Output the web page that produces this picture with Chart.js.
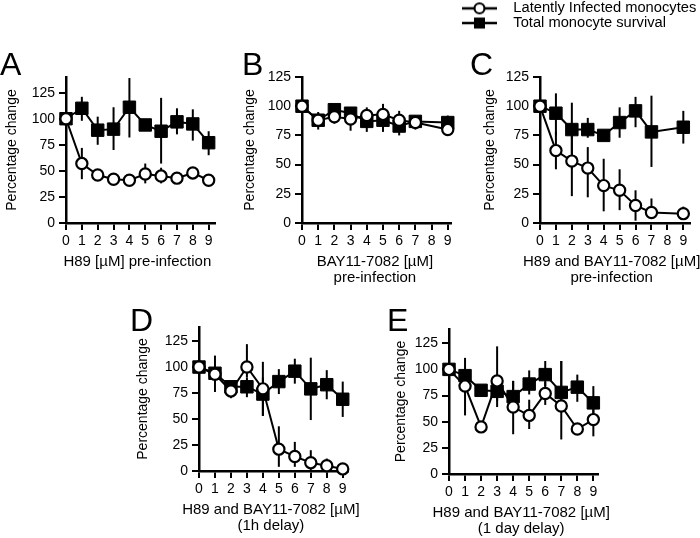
<!DOCTYPE html>
<html><head><meta charset="utf-8">
<script src="https://cdn.jsdelivr.net/npm/chart.js@4.4.1/dist/chart.umd.min.js"></script>
<style>
html,body{margin:0;padding:0;background:#fff;width:700px;height:538px;overflow:hidden;position:relative;}
canvas{position:absolute;}
</style></head><body>
<canvas id="cA"></canvas><canvas id="cB"></canvas><canvas id="cC"></canvas>
<canvas id="cD"></canvas><canvas id="cE"></canvas><canvas id="legend"></canvas>
<script>
// ---------- data ----------
const doses = [0, 1, 2, 3, 4, 5, 6, 7, 8, 9];
const yTicks = [0, 25, 50, 75, 100, 125];
const seriesNames = ['Latently Infected monocytes', 'Total monocyte survival'];
const yTitle = 'Percentage change';

// Panel A: H89 pre-infection
const infA   = [100, 57, 46, 42, 41, 47, 45, 43, 48, 41];
const infALo = [100, 42, 42, 39, 36, 38, 38, 40, 45, 37];
const infAHi = [100, 72, 50, 45, 46, 57, 53, 46, 51, 45];
const totA   = [100, 110, 89, 90, 111, 94, 88, 97, 95, 77];
const totALo = [100, 98, 75, 70, 82, 90, 57, 85, 79, 65];
const totAHi = [100, 121, 102, 111, 139, 98, 120, 110, 109, 88];

// Panel B: BAY11-7082 pre-infection
const infB   = [100, 88, 91, 89, 92, 93, 88, 86, null, 80];
const infBLo = [100, 82, 85, 79, 84, 84, 81, 80, null, 78];
const infBHi = [100, 94, 97, 95, 99, 102, 96, 91, null, 83];
const totB   = [100, 88, 97, 94, 87, 88, 83, 87, null, 86];
const totBLo = [100, 80, 92, 88, 78, 78, 75, 82, null, 80];
const totBHi = [100, 95, 100, 98, 95, 97, 91, 92, null, 92];

// Panel C: H89 and BAY11-7082 pre-infection
const infC   = [100, 62, 53, 47, 32, 28, 15, 9, null, 8];
const infCLo = [100, 46, 23, 22, 10, 11, 2, 4, null, 4];
const infCHi = [100, 78, 75, 65, 55, 46, 28, 21, null, 14];
const totC   = [100, 94, 80, 80, 75, 86, 96, 78, null, 82];
const totCLo = [100, 75, 46, 73, 72, 73, 82, 48, null, 68];
const totCHi = [100, 111, 103, 90, 78, 99, 108, 109, null, 96];

// Panel D: H89 and BAY11-7082 (1h delay)
const infD   = [100, 93, 77, 100, 79, 21, 14, 8, 5, 2];
const infDLo = [100, 85, 70, 90, 53, 4, 4, 1, 1, 1];
const infDHi = [100, 100, 82, 122, 105, 43, 28, 20, 12, 4];
const totD   = [100, 94, 81, 81, 74, 86, 96, 79, 83, 69];
const totDLo = [100, 76, 78, 71, 53, 74, 84, 49, 69, 52];
const totDHi = [100, 111, 84, 90, 90, 98, 108, 109, 97, 86];

// Panel E: H89 and BAY11-7082 (1 day delay)
const infE   = [100, 84, 45, 89, 64, 56, 77, 65, 43, 52];
const infELo = [100, 56, 43, 64, 38, 43, 66, 33, 41, 36];
const infEHi = [100, 100, 48, 122, 89, 71, 88, 108, 46, 64];
const totE   = [100, 94, 80, 79, 74, 86, 95, 78, 83, 68];
const totELo = [100, 84, 78, 70, 68, 76, 84, 70, 69, 52];
const totEHi = [100, 111, 82, 88, 89, 99, 108, 108, 95, 84];

const titleA = ['H89 [µM] pre-infection'];
const titleB = ['BAY11-7082 [µM]', 'pre-infection'];
const titleC = ['H89 and BAY11-7082 [µM]', 'pre-infection'];
const titleD = ['H89 and BAY11-7082 [µM]', '(1h delay)'];
const titleE = ['H89 and BAY11-7082 [µM]', '(1 day delay)'];

// ---------- layout (page geometry of each plot area) ----------
const panels = [
  {id:'cA', letter:'A', title:titleA, inf:[infA,infALo,infAHi], tot:[totA,totALo,totAHi],
   geo:{L:66, T:77, R:215, B:223, ymax:140, xmax:9.4, gap:54, ldx:-66, ldy:-25}},
  {id:'cB', letter:'B', title:titleB, inf:[infB,infBLo,infBHi], tot:[totB,totBLo,totBHi],
   geo:{L:302, T:77, R:451, B:223, ymax:125, xmax:9.2, gap:52, ldx:-60, ldy:-25}},
  {id:'cC', letter:'C', title:titleC, inf:[infC,infCLo,infCHi], tot:[totC,totCLo,totCHi],
   geo:{L:540, T:77, R:690, B:223, ymax:125, xmax:9.42, gap:50, ldx:-70, ldy:-25}},
  {id:'cD', letter:'D', title:titleD, inf:[infD,infDLo,infDHi], tot:[totD,totDLo,totDHi],
   geo:{L:199, T:327, R:348, B:471, ymax:138.5, xmax:9.33, gap:55.5, ldx:-69, ldy:-19}},
  {id:'cE', letter:'E', title:titleE, inf:[infE,infELo,infEHi], tot:[totE,totELo,totEHi],
   geo:{L:449, T:329, R:598, B:474, ymax:138.6, xmax:9.29, gap:47.5, ldx:-62, ldy:-21}}
];

Chart.defaults.font.family = '"Liberation Sans", Arial, Helvetica, sans-serif';
Chart.defaults.color = '#000';

const errorBars = {
  id: 'errorBars',
  beforeDatasetsDraw(chart) {
    const {ctx, scales: {x, y}} = chart;
    ctx.save();
    ctx.strokeStyle = '#000';
    ctx.lineWidth = 2;
    chart.data.datasets.forEach(ds => {
      if (!ds.errLo) return;
      ds.data.forEach((p, i) => {
        if (p.y == null || ds.errLo[i] == null) return;
        const px = x.getPixelForValue(p.x);
        ctx.beginPath();
        ctx.moveTo(px, y.getPixelForValue(ds.errLo[i]));
        ctx.lineTo(px, y.getPixelForValue(ds.errHi[i]));
        ctx.stroke();
      });
    });
    ctx.restore();
  }
};

const panelText = {
  id: 'panelText',
  afterDraw(chart, args, opts) {
    const {ctx, chartArea, scales: {x}} = chart;
    ctx.save();
    ctx.fillStyle = '#000';
    ctx.font = '32px "Liberation Sans", Arial, sans-serif';
    ctx.textBaseline = 'alphabetic';
    ctx.textAlign = 'left';
    ctx.fillText(opts.letter, chartArea.left + opts.dx, chartArea.top + opts.dy + 23);
    // x-axis title, centred on the tick range
    ctx.font = '15px "Liberation Sans", Arial, sans-serif';
    ctx.textAlign = 'center';
    ctx.textBaseline = 'middle';
    const cx = (x.getPixelForValue(doses[0]) + x.getPixelForValue(doses[doses.length - 1])) / 2;
    opts.title.forEach((line, i) => {
      ctx.fillText(line, cx, chartArea.bottom + 38.5 + i * 16.5);
    });
    ctx.restore();
  }
};

function buildPanel(p) {
  const g = p.geo;
  const YW = 72, PT = 32, PR = 26, XH = 72;
  const cv = document.getElementById(p.id);
  const w = YW + (g.R - g.L) + PR, h = PT + (g.B - g.T) + XH;
  cv.width = w; cv.height = h;
  cv.style.width = w + 'px'; cv.style.height = h + 'px';
  cv.style.left = (g.L - YW) + 'px'; cv.style.top = (g.T - PT) + 'px';
  const pts = vals => doses.map((d, i) => ({x: d, y: vals[i]}));
  const axisGrid = {display: true, drawOnChartArea: false, drawTicks: true, tickLength: 7, color: '#000', lineWidth: 2};
  const axisBorder = {display: true, color: '#000', width: 2.5};
  new Chart(cv, {
    type: 'line',
    data: {datasets: [
      {label: seriesNames[0], data: pts(p.inf[0]), errLo: p.inf[1], errHi: p.inf[2],
       borderColor: '#000', borderWidth: 2, pointStyle: 'circle', pointRadius: 5.6, pointBorderWidth: 2.2,
       pointBackgroundColor: '#fff', pointBorderColor: '#000', spanGaps: true, clip: false, fill: false},
      {label: seriesNames[1], data: pts(p.tot[0]), errLo: p.tot[1], errHi: p.tot[2],
       borderColor: '#000', borderWidth: 2, pointStyle: 'rect', pointRadius: 8.8, pointBorderWidth: 1,
       pointBackgroundColor: '#000', pointBorderColor: '#000', spanGaps: true, clip: false, fill: false}
    ]},
    options: {
      responsive: false, animation: false, events: [],
      layout: {padding: {top: PT, right: PR, left: 0, bottom: 0}},
      plugins: {legend: {display: false}, tooltip: {enabled: false},
                panelText: {letter: p.letter, title: p.title, dx: g.ldx, dy: g.ldy}},
      scales: {
        x: {type: 'linear', min: 0, max: g.xmax,
            afterBuildTicks: s => { s.ticks = doses.map(v => ({value: v})); },
            afterFit: s => { s.height = XH; },
            grid: axisGrid, border: axisBorder,
            ticks: {padding: 3, font: {size: 14}, color: '#000', autoSkip: false, maxRotation: 0},
            title: {display: false}},
        y: {type: 'linear', min: 0, max: g.ymax,
            afterBuildTicks: s => { s.ticks = yTicks.map(v => ({value: v})); },
            afterFit: s => { s.width = YW; },
            grid: axisGrid, border: axisBorder,
            ticks: {padding: 4, font: {size: 14}, color: '#000'},
            title: {display: true, text: yTitle, color: '#000',
                    font: {size: 14, lineHeight: '16px'}, padding: {top: YW - g.gap - 8, bottom: 0}}}
      }
    },
    plugins: [errorBars, panelText]
  });
}
panels.forEach(buildPanel);

// ---------- legend ----------
function makeSymbol(kind) {
  const c = document.createElement('canvas');
  c.width = 44; c.height = 16;
  const x = c.getContext('2d');
  x.strokeStyle = '#000'; x.lineWidth = 2.5;
  x.beginPath(); x.moveTo(0, 8); x.lineTo(35, 8); x.stroke();
  if (kind === 'circle') {
    x.beginPath(); x.arc(17.5, 8, 5, 0, Math.PI * 2);
    x.fillStyle = '#fff'; x.fill(); x.lineWidth = 2.2; x.stroke();
  } else {
    x.fillStyle = '#000'; x.fillRect(12, 2.5, 11, 11);
  }
  return c;
}
const symbols = [makeSymbol('circle'), makeSymbol('rect')];
const lv = document.getElementById('legend');
lv.width = 240; lv.height = 70;
lv.style.width = '240px'; lv.style.height = '70px';
lv.style.left = '462px'; lv.style.top = '1px';
new Chart(lv, {
  type: 'line',
  data: {datasets: seriesNames.map(n => ({label: n, data: []}))},
  options: {
    responsive: false, animation: false, events: [],
    layout: {padding: 0},
    scales: {x: {display: false}, y: {display: false}},
    plugins: {
      tooltip: {enabled: false},
      legend: {display: true, position: 'top', align: 'start',
        labels: {usePointStyle: true, pointStyleWidth: 44, boxHeight: 15, padding: 0, color: '#000',
          font: {size: 14.7},
          generateLabels: () => seriesNames.map((n, i) => ({
            text: n, pointStyle: symbols[i], fillStyle: '#000', strokeStyle: '#000',
            lineWidth: 0, hidden: false, datasetIndex: i, fontColor: '#000'}))}}
    }
  }
});
</script>
</body></html>
